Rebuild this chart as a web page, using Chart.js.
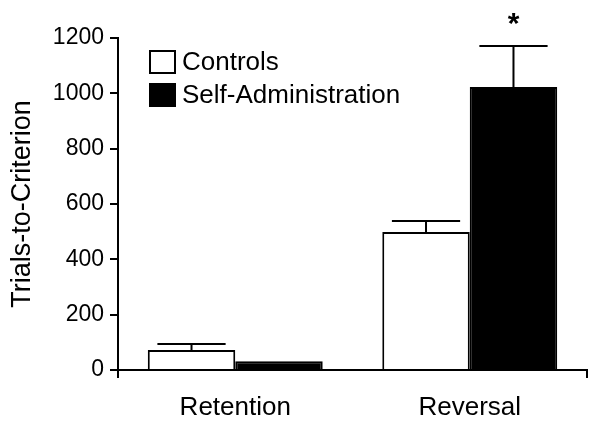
<!DOCTYPE html>
<html>
<head>
<meta charset="utf-8">
<script src="https://cdn.jsdelivr.net/npm/chart.js@4.4.1/dist/chart.umd.min.js"></script>
<style>
  html, body { margin: 0; padding: 0; background: #fff; }
  #wrap { width: 600px; height: 429px; }
</style>
</head>
<body>
<div id="wrap"><canvas id="chart" width="600" height="429"></canvas></div>
<script>
// Trials-to-criterion, mean +/- SEM
const categories = ['Retention', 'Reversal'];
const controlsMean = [72, 499];
const controlsSem = [22, 40];
const selfAdminMean = [32, 1023];
const selfAdminSem = [0, 148];
const yTicks = [0, 200, 400, 600, 800, 1000, 1200];
const seriesLabels = ['Controls', 'Self-Administration'];
const significant = [[false, false], [false, true]]; // [dataset][category]

const FONT = '"Liberation Sans", Arial, Helvetica, sans-serif';

// error bars + asterisk
const errorBarPlugin = {
  id: 'errorBars',
  afterDatasetsDraw(chart) {
    const ctx = chart.ctx;
    const y = chart.scales.y;
    const sems = [controlsSem, selfAdminSem];
    ctx.save();
    ctx.lineWidth = 2;
    chart.data.datasets.forEach((ds, di) => {
      const meta = chart.getDatasetMeta(di);
      meta.data.forEach((bar, i) => {
        const top = y.getPixelForValue(ds.data[i] + sems[di][i]);
        if (sems[di][i] > 0) {
          const half = bar.width * 0.39;
          ctx.strokeStyle = '#000';
          ctx.beginPath();
          ctx.moveTo(bar.x, bar.y);
          ctx.lineTo(bar.x, top);
          ctx.moveTo(bar.x - half, top);
          ctx.lineTo(bar.x + half, top);
          ctx.stroke();
        }
        if (significant[di][i]) {
          ctx.fillStyle = '#000';
          ctx.font = 'bold 30px ' + FONT;
          ctx.textAlign = 'center';
          ctx.textBaseline = 'middle';
          ctx.fillText('*', bar.x, top - 21);
        }
      });
    });
    ctx.restore();
  }
};

// legend in the plot, top left
const boxLegendPlugin = {
  id: 'boxLegend',
  afterDraw(chart) {
    const ctx = chart.ctx;
    ctx.save();
    chart.data.datasets.forEach((ds, i) => {
      const cy = 62 + i * 33;
      ctx.fillStyle = ds.backgroundColor;
      ctx.fillRect(150, cy - 11, 25, 22);
      ctx.lineWidth = 2;
      ctx.strokeStyle = '#000';
      ctx.strokeRect(150, cy - 11, 25, 22);
      ctx.fillStyle = '#000';
      ctx.font = '26px ' + FONT;
      ctx.textAlign = 'left';
      ctx.textBaseline = 'middle';
      ctx.fillText(ds.label, 182, cy + 1);
    });
    ctx.restore();
  }
};

new Chart(document.getElementById('chart').getContext('2d'), {
  type: 'bar',
  data: {
    labels: categories,
    datasets: [
      {
        label: seriesLabels[0],
        data: controlsMean,
        backgroundColor: '#ffffff',
        borderColor: '#000000',
        borderWidth: 2
      },
      {
        label: seriesLabels[1],
        data: selfAdminMean,
        backgroundColor: '#000000',
        borderColor: '#000000',
        borderWidth: 2
      }
    ]
  },
  options: {
    responsive: false,
    animation: false,
    layout: { padding: { top: 38, right: 13, left: 0, bottom: 0 } },
    categoryPercentage: 0.746,
    barPercentage: 1.0,
    plugins: { legend: { display: false }, tooltip: { enabled: false } },
    scales: {
      x: {
        offset: true,
        grid: {
          offset: true,
          drawOnChartArea: false,
          tickLength: 8,
          lineWidth: 2,
          color: c => c.index === 1 ? 'rgba(0,0,0,0)' : '#000'
        },
        border: { display: true, color: '#000', width: 2 },
        ticks: { color: '#000', font: { family: FONT, size: 26 }, padding: 14, maxRotation: 0 },
        afterFit: s => { s.height = 59; }
      },
      y: {
        min: 0,
        max: 1200,
        afterBuildTicks: s => { s.ticks = yTicks.map(v => ({ value: v })); },
        grid: { drawOnChartArea: false, tickLength: 8, lineWidth: 2, color: '#000' },
        border: { display: true, color: '#000', width: 2 },
        ticks: { color: '#000', font: { family: FONT, size: 23 }, padding: 6, callback: v => String(v) },
        title: {
          display: true,
          text: 'Trials-to-Criterion',
          color: '#000',
          font: { family: FONT, size: 27 },
          padding: { top: 6, bottom: 0 }
        },
        afterFit: s => { s.width = 118; }
      }
    }
  },
  plugins: [errorBarPlugin, boxLegendPlugin]
});
</script>
</body>
</html>
